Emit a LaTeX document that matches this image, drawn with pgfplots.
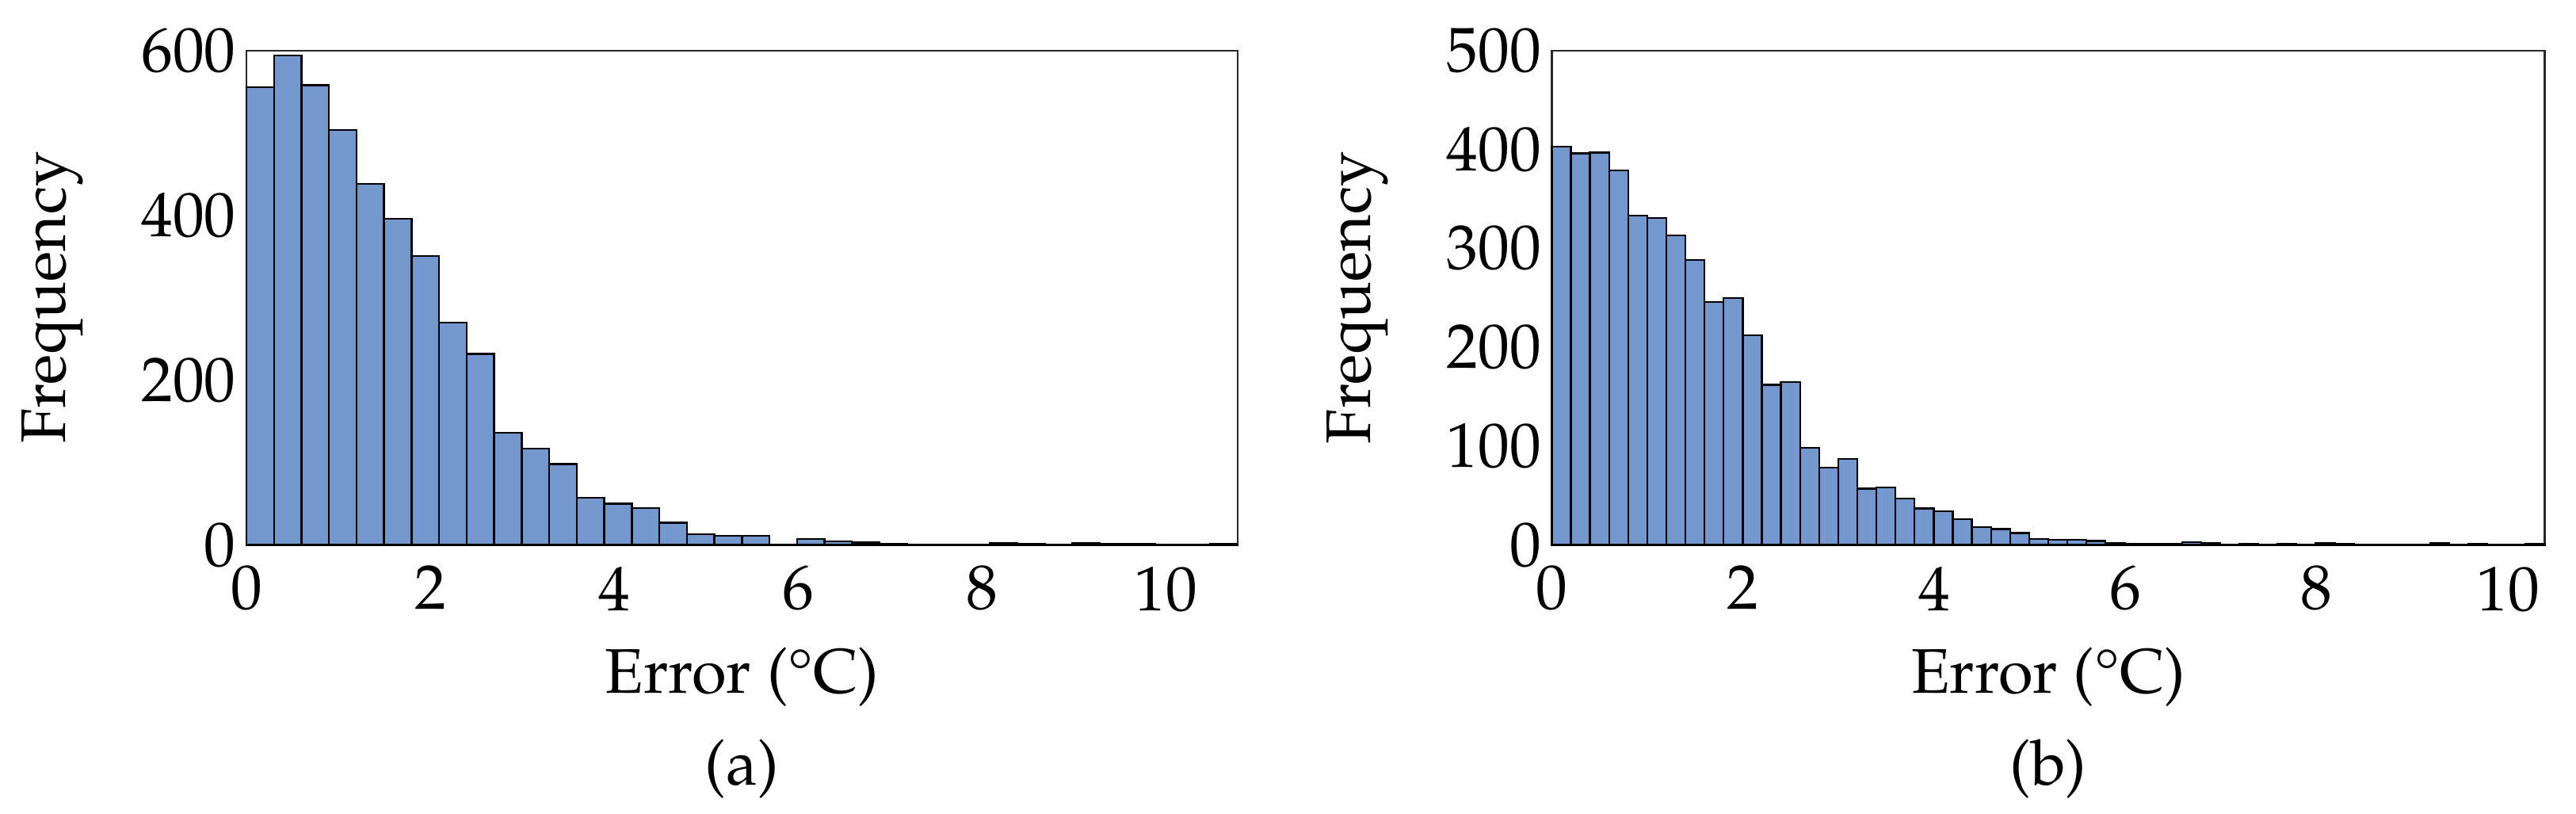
\documentclass[border=0pt]{standalone}
\usepackage[T1]{fontenc}
\usepackage{mathpazo}
\usepackage{pgfplots}
\pgfplotsset{compat=1.18}
\definecolor{barblue}{RGB}{116,152,206}
\definecolor{spine}{RGB}{38,38,38}
\pgfplotsset{
  histax/.style={
    scale only axis,
    anchor=south west,
    height=94.12pt,
    xmin=0, ymin=0,
    enlargelimits=false,
    clip=false,
    axis line style={draw=spine, line width=0.35pt},
    major tick length=0pt,
    minor tick length=0pt,
    tick style={draw=none},
    xtick={0,2,4,6,8,10},
    font=\fontsize{12}{14.4}\selectfont,
    xticklabel style={anchor=north, inner sep=0pt, yshift=-3.9pt},
    yticklabel style={anchor=east, inner sep=0pt, xshift=-1.8pt},
    xlabel={Error (\textdegree C)},
    ylabel={Frequency},
    xlabel style={at={(axis description cs:0.5,-0.2998)}, anchor=base, inner sep=0pt},
    ylabel style={at={(axis description cs:-0.1830,0.5)}, anchor=base, inner sep=0pt},
  },
  histbar/.style={ybar interval, fill=barblue, draw=black, line width=0.35pt},
}
\begin{document}
\begin{tikzpicture}
\path[use as bounding box] (0,0) rectangle (490.7pt,154.9pt);
% (a)
\begin{axis}[histax, at={(46.93pt,51.13pt)}, width=188.8pt,
  xmax=10.78, ymax=600, ytick={0,200,400,600}]
\addplot[histbar] coordinates {
(0,556) (0.2994,594) (0.5989,558) (0.8983,504) (1.1978,438) (1.4972,396)
(1.7967,351) (2.0961,270) (2.3956,232) (2.6950,136) (2.9944,117) (3.2939,98)
(3.5933,57) (3.8928,50) (4.1922,45) (4.4917,27) (4.7911,13) (5.0906,11)
(5.3900,11) (5.6894,0) (5.9889,7) (6.2883,4) (6.5878,3) (6.8872,1)
(7.1867,0) (7.4861,0) (7.7856,0) (8.0850,2) (8.3844,1) (8.6839,0)
(8.9833,2) (9.2828,1) (9.5822,1) (9.8817,0) (10.1811,0) (10.4806,1) (10.78,0)
};
\node[anchor=base, inner sep=0pt] at (axis description cs:0.5,-0.4855) {(a)};
\end{axis}
% (b)
\begin{axis}[histax, at={(295.6pt,51.13pt)}, width=189.15pt,
  xmax=10.385, ymax=500, ytick={0,100,200,300,400,500},
  ylabel style={at={(axis description cs:-0.1827,0.5)}}]
\addplot[histbar] coordinates {
(0,403) (0.1997,396) (0.3994,397) (0.5991,379) (0.7988,333) (0.9986,331)
(1.1983,313) (1.3980,288) (1.5977,246) (1.7974,250) (1.9971,212) (2.1968,162)
(2.3965,165) (2.5963,98) (2.7960,78) (2.9957,87) (3.1954,57) (3.3951,58)
(3.5948,47) (3.7945,37) (3.9942,34) (4.1940,26) (4.3937,18) (4.5934,16)
(4.7931,12) (4.9928,6) (5.1925,5) (5.3922,5) (5.5919,4) (5.7916,2)
(5.9914,1) (6.1911,1) (6.3908,1) (6.5905,3) (6.7902,2) (6.9899,0)
(7.1896,1) (7.3893,0) (7.5890,1) (7.7888,0) (7.9885,2) (8.1882,1)
(8.3879,0) (8.5876,0) (8.7873,0) (8.9870,0) (9.1868,2) (9.3865,0)
(9.5862,1) (9.7859,0) (9.9856,0) (10.1853,1) (10.385,0)
};
\node[anchor=base, inner sep=0pt] at (axis description cs:0.5,-0.4855) {(b)};
\end{axis}
\end{tikzpicture}
\end{document}
